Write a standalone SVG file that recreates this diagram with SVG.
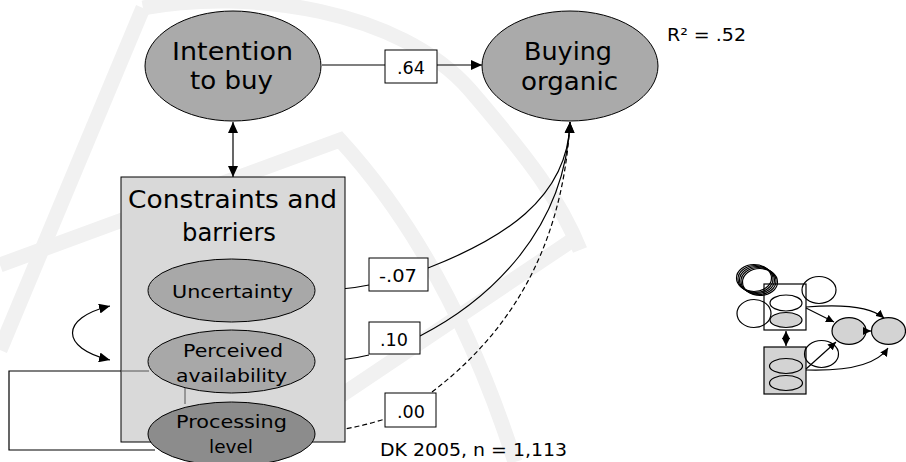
<svg xmlns="http://www.w3.org/2000/svg" width="906" height="462" viewBox="0 0 906 462">
  <style>
    .bg { fill: #ffffff; }
    .wm { fill: none; stroke: #f1f1f1; stroke-width: 15; }
    .latent { fill: #aaaaaa; stroke: #000; stroke-width: 1; }
    .factor { fill: #a8a8a8; stroke: #000; stroke-width: 1; }
    .factor-dark { fill: #8c8c8c; stroke: #000; stroke-width: 1; }
    .group { fill: #d9d9d9; stroke: #000; stroke-width: 1; }
    .coef { fill: #ffffff; stroke: #000; stroke-width: 1; }
    .line { fill: none; stroke: #000; stroke-width: 1.2; }
    .inner { fill: none; stroke: #555; stroke-width: 1; }
    .dash { fill: none; stroke: #000; stroke-width: 1.2; stroke-dasharray: 5 3; }
    text { font-family: "DejaVu Sans", Verdana, sans-serif; fill: #000; }
    .big { font-size: 24px; }
    .mid { font-size: 18px; }
    .small { font-size: 17px; }
    .mini { fill: none; stroke: #000; stroke-width: 1.2; }
    .mini-gray { fill: #d3d3d3; stroke: #000; stroke-width: 1.2; }
  </style>
  <defs>
    <marker id="arrow" markerUnits="userSpaceOnUse" markerWidth="11" markerHeight="10" refX="11" refY="5" orient="auto-start-reverse">
      <path d="M0,0 L11,5 L0,10 z" fill="#000"/>
    </marker>
    <marker id="arrow-sm" markerUnits="userSpaceOnUse" markerWidth="8" markerHeight="8" refX="8" refY="4" orient="auto-start-reverse">
      <path d="M0,0 L8,4 L0,8 z" fill="#000"/>
    </marker>
  </defs>

  <rect class="bg" x="0" y="0" width="906" height="462"/>

  <!-- faint background emblem -->
  <g id="emblem">
    <path class="wm" d="M143,8 L0,350"/>
    <path class="wm" d="M143,8 C250,-12 400,10 470,90 C530,160 560,200 580,250"/>
    <path class="wm" d="M0,265 L340,140 Q450,260 515,462"/>
    <path class="wm" d="M300,423 L577,237"/>
  </g>

  <!-- connectors -->
  <g id="connectors">
    <path class="line" d="M322,65 L385,65"/>
    <path class="line" d="M437,65 L482,65" marker-end="url(#arrow)"/>
    <path class="line" d="M233,122 L233,177" marker-start="url(#arrow)" marker-end="url(#arrow)"/>
    <path class="line" d="M315,290 Q345,290 369,285"/>
    <path class="line" d="M315,361 Q345,361 369,355"/>
    <path class="dash" d="M315,433 Q350,430 385,419"/>
    <path class="line" d="M428,268 C500,240 568,200 570,122" marker-end="url(#arrow)"/>
    <path class="line" d="M420,336 C490,300 565,230 570,122" marker-end="url(#arrow)"/>
    <path class="dash" d="M432,392 C500,340 562,260 570,122"/>
    <path class="line" d="M110,306 C60,318 60,348 110,360" marker-start="url(#arrow)" marker-end="url(#arrow)"/>
    <path class="line" d="M121,371 L9,371 L9,450 L155,450"/>
  </g>

  <g id="intention">
    <ellipse class="latent" cx="233" cy="66" rx="88" ry="55"/>
    <text class="big" x="172" y="60" textLength="121" lengthAdjust="spacingAndGlyphs">Intention</text>
    <text class="big" x="190" y="89" textLength="83" lengthAdjust="spacingAndGlyphs">to buy</text>
  </g>

  <g id="buying">
    <ellipse class="latent" cx="570" cy="66" rx="88" ry="55"/>
    <text class="big" x="524" y="60" textLength="88" lengthAdjust="spacingAndGlyphs">Buying</text>
    <text class="big" x="521" y="90" textLength="97" lengthAdjust="spacingAndGlyphs">organic</text>
  </g>

  <g id="r-squared">
    <text class="small" x="667" y="41" textLength="79" lengthAdjust="spacingAndGlyphs">R² = .52</text>
  </g>

  <g id="coef-intention">
    <rect class="coef" x="385" y="50" width="52" height="33"/>
    <text class="small" x="397" y="74" textLength="28" lengthAdjust="spacingAndGlyphs">.64</text>
  </g>

  <g id="constraints">
    <rect class="group" x="121" y="177" width="224" height="265"/>
    <text class="big" x="128" y="208" textLength="209" lengthAdjust="spacingAndGlyphs">Constraints and</text>
    <text class="big" x="182" y="241" textLength="94" lengthAdjust="spacingAndGlyphs">barriers</text>
    <path class="inner" d="M121,371 L149,371"/>
    <path class="inner" d="M185,388 L185,404"/>
  </g>

  <g id="uncertainty">
    <ellipse class="factor" cx="231.5" cy="290.5" rx="83.5" ry="31.5"/>
    <text class="mid" x="172" y="298" textLength="121" lengthAdjust="spacingAndGlyphs">Uncertainty</text>
  </g>

  <g id="availability">
    <ellipse class="factor" cx="231.5" cy="361.5" rx="83.5" ry="31.5"/>
    <text class="mid" x="183" y="357" textLength="100" lengthAdjust="spacingAndGlyphs">Perceived</text>
    <text class="mid" x="176" y="382" textLength="111" lengthAdjust="spacingAndGlyphs">availability</text>
  </g>

  <g id="processing">
    <ellipse class="factor-dark" cx="231.5" cy="434" rx="83.5" ry="32"/>
    <text class="mid" x="176" y="428" textLength="111" lengthAdjust="spacingAndGlyphs">Processing</text>
    <text class="mid" x="209" y="453" textLength="44" lengthAdjust="spacingAndGlyphs">level</text>
  </g>

  <g id="coef-uncertainty">
    <rect class="coef" x="369" y="258" width="59" height="33"/>
    <text class="small" x="379" y="282" textLength="38" lengthAdjust="spacingAndGlyphs">-.07</text>
  </g>

  <g id="coef-availability">
    <rect class="coef" x="369" y="322" width="51" height="32"/>
    <text class="small" x="380" y="346" textLength="28" lengthAdjust="spacingAndGlyphs">.10</text>
  </g>

  <g id="coef-processing">
    <rect class="coef" x="385" y="393" width="51" height="34"/>
    <text class="small" x="397" y="418" textLength="28" lengthAdjust="spacingAndGlyphs">.00</text>
  </g>

  <g id="sample-note">
    <text class="small" x="380" y="456" textLength="187" lengthAdjust="spacingAndGlyphs">DK 2005, n = 1,113</text>
  </g>

  <!-- model thumbnail -->
  <g id="thumbnail">
    <ellipse class="mini" cx="754" cy="278" rx="17.5" ry="13.5"/>
    <ellipse class="mini" cx="755.5" cy="279" rx="17.5" ry="13.5"/>
    <ellipse class="mini" cx="757" cy="280" rx="17.5" ry="13.5"/>
    <ellipse class="mini" cx="758.5" cy="281" rx="17.5" ry="13.5"/>
    <ellipse class="mini" cx="760" cy="282" rx="17.5" ry="13.5"/>
    <rect class="mini" x="764" y="284" width="42" height="46"/>
    <ellipse class="mini" cx="819" cy="290" rx="17" ry="13.5"/>
    <ellipse class="mini" cx="754" cy="313.5" rx="17" ry="14"/>
    <ellipse class="mini" cx="786" cy="303" rx="16" ry="8"/>
    <ellipse class="mini-gray" cx="786" cy="320" rx="16" ry="7.5"/>
    <rect class="mini-gray" x="764" y="347" width="42" height="47"/>
    <ellipse class="mini-gray" cx="786" cy="366" rx="16.5" ry="7.5"/>
    <ellipse class="mini-gray" cx="786" cy="383" rx="16.5" ry="7.5"/>
    <ellipse class="mini" cx="821.5" cy="354" rx="17" ry="13.5"/>
    <ellipse class="mini-gray" cx="849" cy="331" rx="17" ry="13.3"/>
    <ellipse class="mini-gray" cx="888.5" cy="331" rx="17" ry="13.3"/>
    <path class="mini" d="M786,331 L786,346" marker-start="url(#arrow-sm)" marker-end="url(#arrow-sm)"/>
    <path class="mini" d="M806,308 L834,322" marker-end="url(#arrow-sm)"/>
    <path class="mini" d="M806,307 Q865,302 884,318" marker-end="url(#arrow-sm)"/>
    <path class="mini" d="M866,331 L871,331" marker-end="url(#arrow-sm)"/>
    <path class="mini" d="M806,369 L836,342" marker-end="url(#arrow-sm)"/>
    <path class="mini" d="M806,370 Q872,372 888,348" marker-end="url(#arrow-sm)"/>
  </g>
</svg>
